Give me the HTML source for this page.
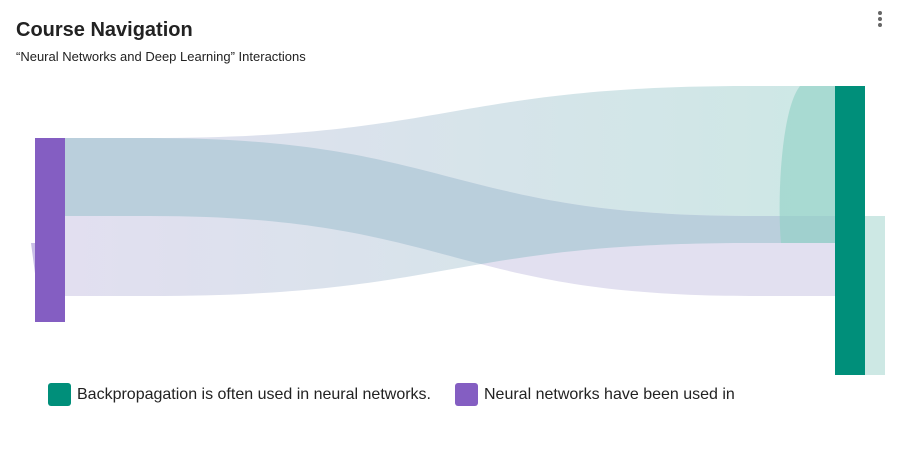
<!DOCTYPE html>
<html><head><meta charset="utf-8"><style>
body{margin:0;width:899px;height:457px;background:#fff;font-family:"Liberation Sans",sans-serif;overflow:hidden;position:relative}
.t{position:absolute;left:16px;top:19px;font-size:20px;font-weight:bold;color:#222}
.s{position:absolute;left:16px;top:49px;font-size:13px;color:#222}
.leg{position:absolute;top:383px;font-size:16px;color:#222;display:flex;align-items:center}
.leg i{display:inline-block;width:23px;height:23px;border-radius:3px;margin-right:6px}
</style></head><body>
<div class="t">Course Navigation</div>
<div class="s">“Neural Networks and Deep Learning” Interactions</div>
<svg width="899" height="457" style="position:absolute;left:0;top:0">
<defs>
<linearGradient id="g1" x1="0" x2="1"><stop offset="0" stop-color="#e2dff0"/><stop offset="1" stop-color="#cde8e5"/></linearGradient>
<clipPath id="c1"><path d="M65,138 L150,138 C450,138 450,86 750,86 L835,86 L835,243 L750,243 C450,243 450,296 150,296 L65,296Z"/></clipPath>
</defs>
<circle cx="880" cy="13" r="2" fill="#666"/><circle cx="880" cy="19" r="2" fill="#666"/><circle cx="880" cy="25" r="2" fill="#666"/>
<path d="M31,243 L35,243 L35,296 L38,296 Z" fill="#c9bfe6"/>
<path d="M65,138 L150,138 C450,138 450,86 750,86 L835,86 L835,243 L750,243 C450,243 450,296 150,296 L65,296Z" fill="url(#g1)"/>
<path d="M65,138 L150,138 C450,138 450,216 750,216 L835,216 L835,296 L750,296 C450,296 450,216 150,216 L65,216Z" fill="#e2e0f0"/>
<path d="M65,138 L150,138 C450,138 450,216 750,216 L835,216 L835,296 L750,296 C450,296 450,216 150,216 L65,216Z" fill="#bacfdc" clip-path="url(#c1)"/>
<path d="M800,86 L835,86 L835,243 L781,243 C777,200 781,110 800,86Z" fill="#8fd0c4" opacity="0.6"/>
<rect x="35" y="138" width="30" height="184" fill="#845ec2"/>
<rect x="865" y="216" width="20" height="159" fill="#cde8e4"/>
<rect x="835" y="86" width="30" height="289" fill="#008f7a"/>
</svg>
<div class="leg" style="left:48px"><i style="background:#008f7a"></i>Backpropagation is often used in neural networks.</div>
<div class="leg" style="left:455px"><i style="background:#845ec2"></i>Neural networks have been used in</div>
</body></html>
